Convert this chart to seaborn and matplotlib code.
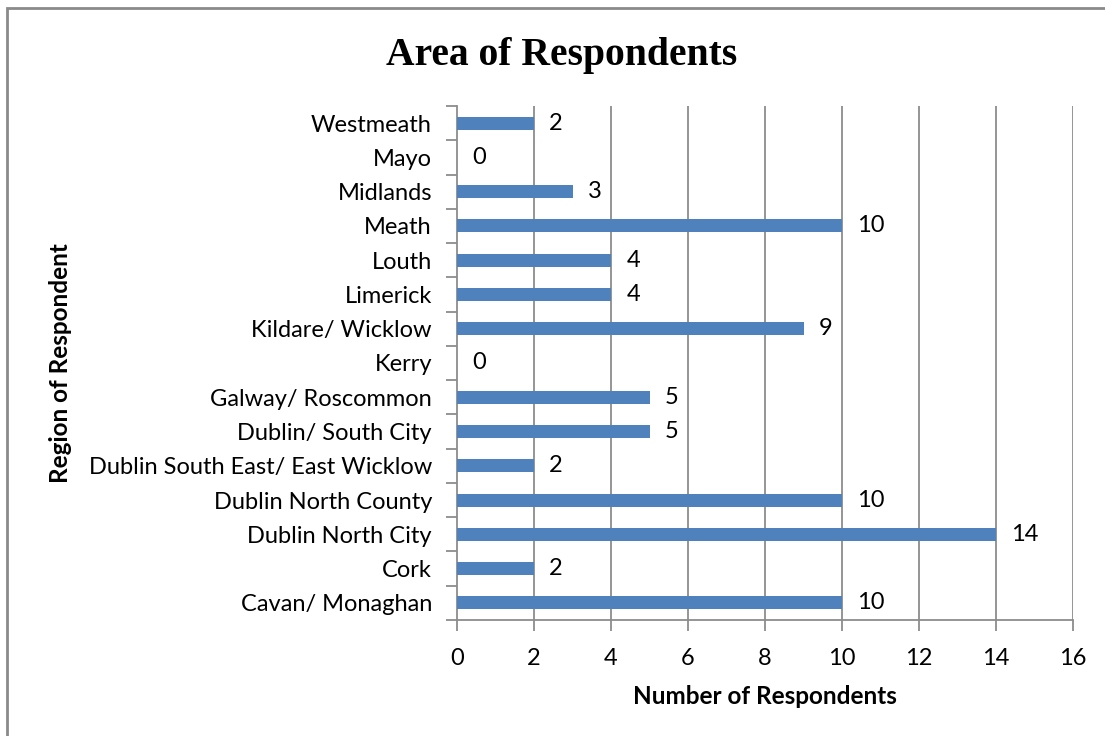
import matplotlib
matplotlib.use("Agg")
import matplotlib.pyplot as plt
import seaborn as sns
import pandas as pd
import numpy as np
from matplotlib.patches import Rectangle

regions = ["Westmeath", "Mayo", "Midlands", "Meath", "Louth", "Limerick",
           "Kildare/ Wicklow", "Kerry", "Galway/ Roscommon", "Dublin/ South City",
           "Dublin South East/ East Wicklow", "Dublin North County",
           "Dublin North City", "Cork", "Cavan/ Monaghan"]
counts = [2, 0, 3, 10, 4, 4, 9, 0, 5, 5, 2, 10, 14, 2, 10]
x_ticks = [0, 2, 4, 6, 8, 10, 12, 14, 16]

sns.set_theme(style="white")
plt.rcParams['font.family'] = ['Lato', 'DejaVu Sans']
plt.rcParams['text.color'] = 'black'
plt.rcParams['axes.labelcolor'] = 'black'

df = pd.DataFrame({"region": regions, "count": counts})

fig = plt.figure(figsize=(11.05, 7.36), dpi=100)
ax = fig.add_axes([457/1105, 1-620/736, (1073-457)/1105, (620-106)/736])

grid_c = "#8c8c8c"
sns.barplot(data=df, y="region", x="count", order=regions, color="#4F81BD",
            saturation=1, width=0.38, ax=ax, zorder=3, linewidth=0, edgecolor="none")

ax.set_xlim(0, 16)
ax.set_ylim(len(regions)-0.5, -0.5)
ax.set_xticks(x_ticks)
ax.set_xticklabels([str(t) for t in x_ticks])
for t in x_ticks[1:]:
    ax.axvline(t, color=grid_c, lw=1.3, zorder=1)

fs = 17
ax.set_yticks(np.arange(len(regions)))
ax.set_yticks(np.arange(-0.5, len(regions)+0.5, 1), minor=True)
ax.tick_params(axis="y", which="major", length=0, pad=18, labelsize=fs, labelcolor="black")
ax.tick_params(axis="y", which="minor", length=8, width=1.3, color=grid_c, direction="out", left=True)
ax.tick_params(axis="x", which="major", length=8, width=1.3, color=grid_c, direction="out",
               bottom=True, pad=12, labelsize=fs, labelcolor="black")

for s in ["top", "right"]:
    ax.spines[s].set_visible(False)
for s in ["left", "bottom"]:
    ax.spines[s].set_color(grid_c)
    ax.spines[s].set_linewidth(1.3)

for i, v in enumerate(counts):
    ax.annotate(str(v), xy=(v, i), xytext=(11, 0), textcoords="offset points",
                va="center", ha="left", fontsize=fs, color="black", zorder=4)

ax.set_xlabel("Number of Respondents", fontsize=17.5, fontweight="bold", labelpad=12, color="black")
ax.set_ylabel("Region of Respondent", fontsize=17.5, fontweight="bold", color="black")
ax.yaxis.set_label_coords(-(457-72)/(1073-457), 0.5)

fig.text(562/1105, 1-56/736, "Area of Respondents", ha="center", va="center", color="black",
         fontsize=28.5, fontweight="bold", family=["Liberation Serif", "DejaVu Serif"])

fig.patches.append(Rectangle((7/1105, -0.1), 1.2, 1-8/736+0.1, transform=fig.transFigure,
                             fill=False, edgecolor="#8a8a8a", lw=2))

fig.savefig("out.png", dpi=100)
